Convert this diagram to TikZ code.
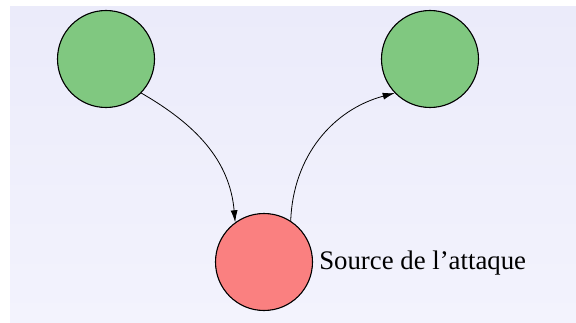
\documentclass[tikz,border=0pt]{standalone}
\usepackage{fontspec}
\setmainfont{Liberation Serif}
\usetikzlibrary{arrows.meta,positioning}
\definecolor{hostgreen}{RGB}{128,200,128}
\definecolor{sourcered}{RGB}{250,128,128}
\definecolor{bgtop}{RGB}{235,235,250}
\definecolor{bgbottom}{RGB}{243,243,253}

\begin{document}
\begin{tikzpicture}[x=1pt, y=1pt, node distance={324pt}, on grid,
        main/.style = {draw, circle, line width=1.1pt, minimum size=97pt, inner sep=0pt},
        host/.style = {main, fill=hostgreen},
        source/.style = {main, fill=sourcered}]
            \useasboundingbox (0,0) rectangle (576,322);
            \shade[top color=bgtop, bottom color=bgbottom] (10,0) rectangle (576,315);

            \node[host] (A) at (106,263) {};
            \node[host] (B) [right=of A] {};
            \node[source] (S) [below right=203pt and 158pt of A] {};
            \node[anchor=west, inner sep=0pt, font=\fontsize{26.8}{31}\selectfont] (L)
                at ([xshift=6pt,yshift=-1pt]S.east) {Source de l’attaque};

            \path[-{Latex[length=12pt,width=7pt]}, line width=0.8pt] (A.-44) edge [out=-30,in=95] (S.126);
            \path[-{Latex[length=12pt,width=7pt]}, line width=0.8pt] (S.57) edge [out=88,in=-165] (B.-136);
        \end{tikzpicture}
\end{document}
